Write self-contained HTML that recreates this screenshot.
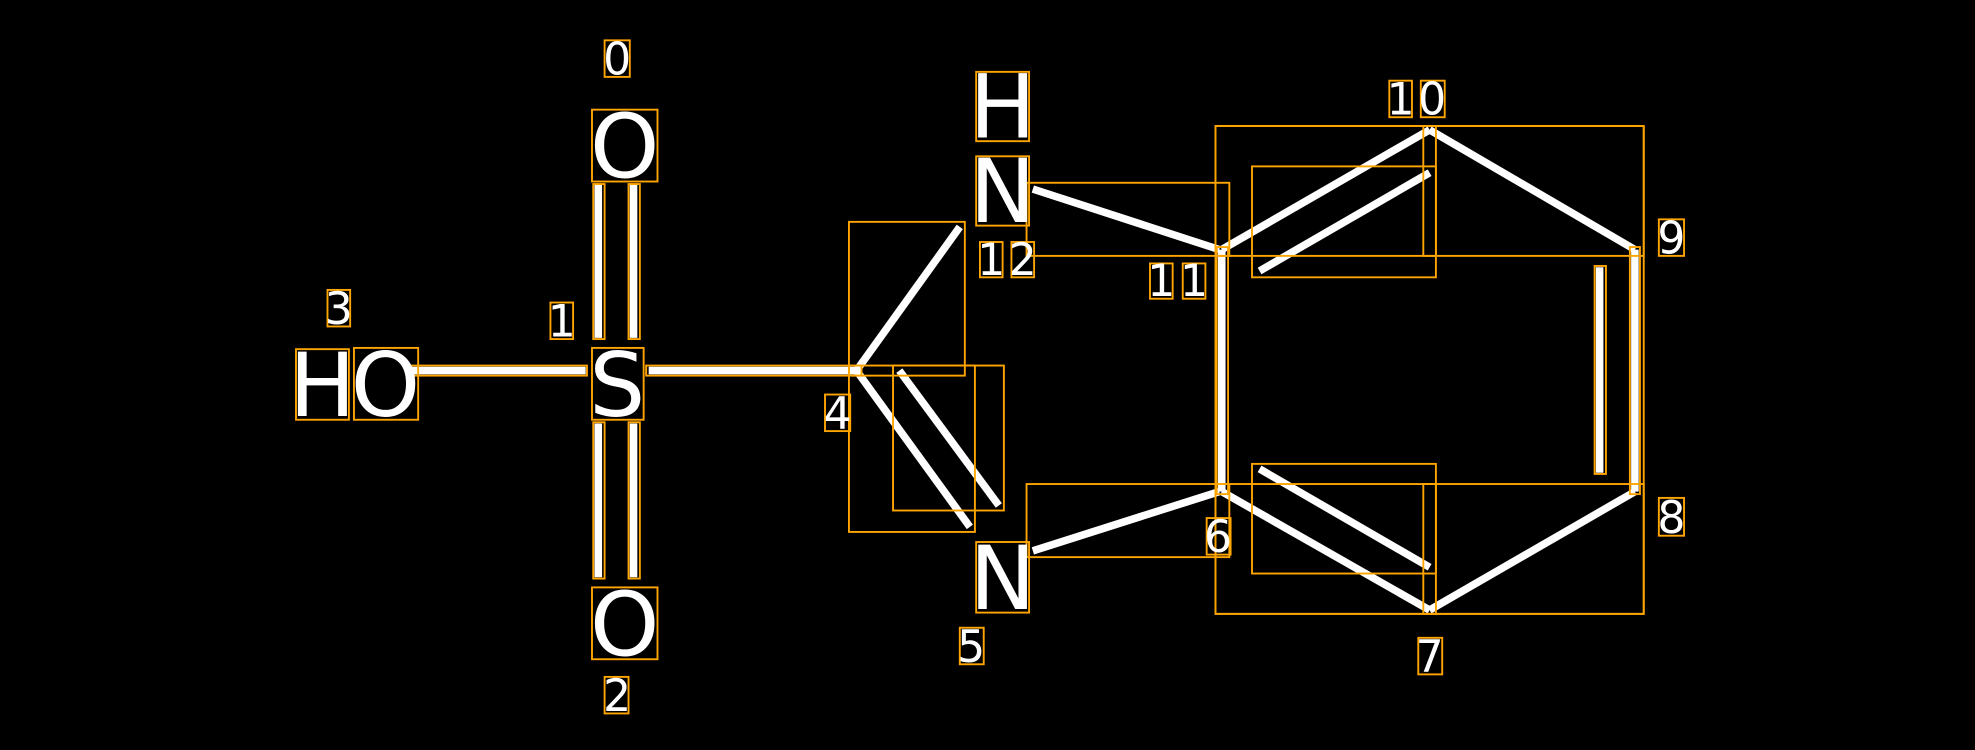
<!DOCTYPE html>
<html><head><style>html,body{margin:0;padding:0;background:#000;}svg{display:block}</style></head>
<body>
<svg width="1975" height="750" viewBox="0 0 1568 595" preserveAspectRatio="none" xmlns="http://www.w3.org/2000/svg">
<rect width="1568" height="595" fill="#000"/>
<g stroke="#fff" stroke-width="6" stroke-linecap="butt" fill="none">
<line x1="475" y1="146" x2="475" y2="268"/><line x1="503" y1="146" x2="503" y2="268"/>
<line x1="475" y1="336" x2="475" y2="458"/><line x1="503" y1="336" x2="503" y2="458"/>
<line x1="326" y1="294" x2="465" y2="294"/>
<line x1="515" y1="294" x2="683" y2="294"/>
<line x1="680" y1="294" x2="762" y2="180"/>
<line x1="680" y1="294" x2="770" y2="418"/><line x1="714" y1="294" x2="793" y2="401"/>
<line x1="820" y1="150" x2="968" y2="198"/>
<line x1="970" y1="198" x2="1135" y2="103"/><line x1="1000" y1="215" x2="1135" y2="137"/>
<line x1="1135" y1="103" x2="1298" y2="198"/>
<line x1="1298" y1="198" x2="1298" y2="390"/><line x1="1270" y1="212" x2="1270" y2="375"/>
<line x1="1298" y1="390" x2="1135" y2="484"/>
<line x1="1135" y1="484" x2="970" y2="390"/><line x1="1135" y1="450" x2="1000" y2="372"/>
<line x1="970" y1="198" x2="970" y2="390"/>
<line x1="968" y1="390" x2="820" y2="437"/>
</g>
<g stroke="#ffa500" stroke-width="1.5" fill="none">
<rect x="480" y="32" width="20" height="29"/><rect x="470" y="87" width="52" height="57"/>
<rect x="470" y="276" width="41" height="57"/><rect x="235" y="277" width="42" height="56"/><rect x="281" y="276" width="51" height="57"/>
<rect x="260" y="230" width="18" height="29"/><rect x="437" y="240" width="18" height="29"/>
<rect x="470" y="466" width="52" height="57"/><rect x="480" y="537" width="19" height="29"/>
<rect x="471" y="146" width="9" height="123"/><rect x="499" y="146" width="9" height="123"/>
<rect x="471" y="335" width="9" height="124"/><rect x="499" y="335" width="9" height="124"/>
<rect x="325" y="290" width="141" height="8"/><rect x="513" y="290" width="171" height="8"/>
<rect x="655" y="313" width="20" height="29"/>
<rect x="674" y="176" width="92" height="122"/>
<rect x="674" y="290" width="100" height="132"/><rect x="709" y="290" width="88" height="115"/>
<rect x="775" y="57" width="42" height="55"/><rect x="775" y="124" width="42" height="55"/>
<rect x="778" y="192" width="18" height="28"/><rect x="803" y="192" width="18" height="28"/>
<rect x="815" y="145" width="161" height="58"/>
<rect x="913" y="209" width="18" height="28"/><rect x="939" y="209" width="18" height="28"/>
<rect x="965" y="100" width="340" height="387"/>
<rect x="965" y="100" width="175" height="103"/>
<rect x="994" y="132" width="146" height="88"/>
<rect x="1130" y="100" width="175" height="103"/>
<rect x="1103" y="64" width="18" height="29"/><rect x="1128" y="64" width="19" height="29"/>
<rect x="1317" y="174" width="20" height="29"/><rect x="1317" y="395" width="20" height="30"/>
<rect x="1294" y="196" width="8" height="196"/><rect x="1266" y="211" width="9" height="165"/>
<rect x="1130" y="384" width="175" height="103"/>
<rect x="965" y="384" width="175" height="103"/>
<rect x="994" y="368" width="146" height="87"/>
<rect x="1126" y="506" width="19" height="29"/><rect x="958" y="411" width="19" height="29"/>
<rect x="966" y="196" width="9" height="196"/>
<rect x="815" y="384" width="161" height="58"/>
<rect x="775" y="430" width="42" height="56"/><rect x="762" y="498" width="19" height="29"/>
</g>
<g fill="#fff" font-family="DejaVu Sans, Liberation Sans, sans-serif" text-anchor="middle">
<g font-size="70">
<text x="496" y="141">O</text><text x="490" y="330">S</text><text x="256" y="330">H</text><text x="306" y="330">O</text>
<text x="496" y="520">O</text><text x="796" y="109">H</text><text x="796" y="176">N</text><text x="796" y="483">N</text>
</g>
<g font-size="35">
<text x="490" y="59">0</text><text x="269" y="257">3</text><text x="446" y="267">1</text><text x="490" y="564">2</text>
<text x="665" y="340">4</text><text x="787" y="218">1</text><text x="812" y="218">2</text><text x="922" y="235">1</text><text x="948" y="235">1</text>
<text x="1112" y="91">1</text><text x="1137" y="91">0</text><text x="1327" y="201">9</text><text x="1327" y="423">8</text>
<text x="1135" y="533">7</text><text x="967" y="438">6</text><text x="771" y="525">5</text>
</g>
</g>
</svg>
</body></html>
